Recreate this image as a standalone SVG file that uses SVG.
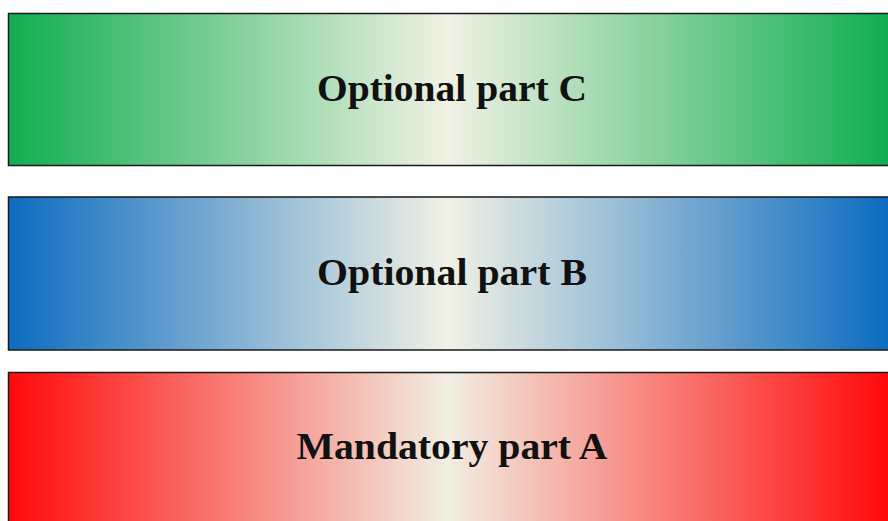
<svg xmlns="http://www.w3.org/2000/svg" width="888" height="521" viewBox="0 0 888 521">
<defs>
<linearGradient id="gC" gradientUnits="userSpaceOnUse" x1="8" y1="0" x2="888" y2="0">
<stop offset="0" stop-color="#10ae50"/><stop offset="0.5" stop-color="#f1f1e4"/><stop offset="1" stop-color="#10ae50"/>
</linearGradient>
<linearGradient id="gB" gradientUnits="userSpaceOnUse" x1="8" y1="0" x2="888" y2="0">
<stop offset="0" stop-color="#0c6cc1"/><stop offset="0.5" stop-color="#f1f1e4"/><stop offset="1" stop-color="#0c6cc1"/>
</linearGradient>
<linearGradient id="gA" gradientUnits="userSpaceOnUse" x1="8" y1="0" x2="888" y2="0">
<stop offset="0" stop-color="#ff0a0a"/><stop offset="0.5" stop-color="#f1eee2"/><stop offset="1" stop-color="#ff0a0a"/>
</linearGradient>
</defs>
<style>
.box{stroke:#1a1a1a;stroke-width:1.5}
.lbl{font-family:"Liberation Serif","Times New Roman",serif;font-weight:bold;font-size:38px;fill:#111;text-anchor:middle}
</style>
<rect width="888" height="521" fill="#ffffff"/>
<g id="partC">
<rect class="box" x="8.5" y="13.5" width="884" height="152" fill="url(#gC)"/>
<text class="lbl" x="452" y="101" textLength="270" lengthAdjust="spacingAndGlyphs">Optional part C</text>
</g>
<g id="partB">
<rect class="box" x="8.5" y="197" width="884" height="153" fill="url(#gB)"/>
<text class="lbl" x="452" y="285" textLength="270" lengthAdjust="spacingAndGlyphs">Optional part B</text>
</g>
<g id="partA">
<rect class="box" x="8.5" y="372.5" width="884" height="160" fill="url(#gA)"/>
<text class="lbl" x="452" y="459" textLength="311" lengthAdjust="spacingAndGlyphs">Mandatory part A</text>
</g>
<g id="connectors"/>
</svg>
